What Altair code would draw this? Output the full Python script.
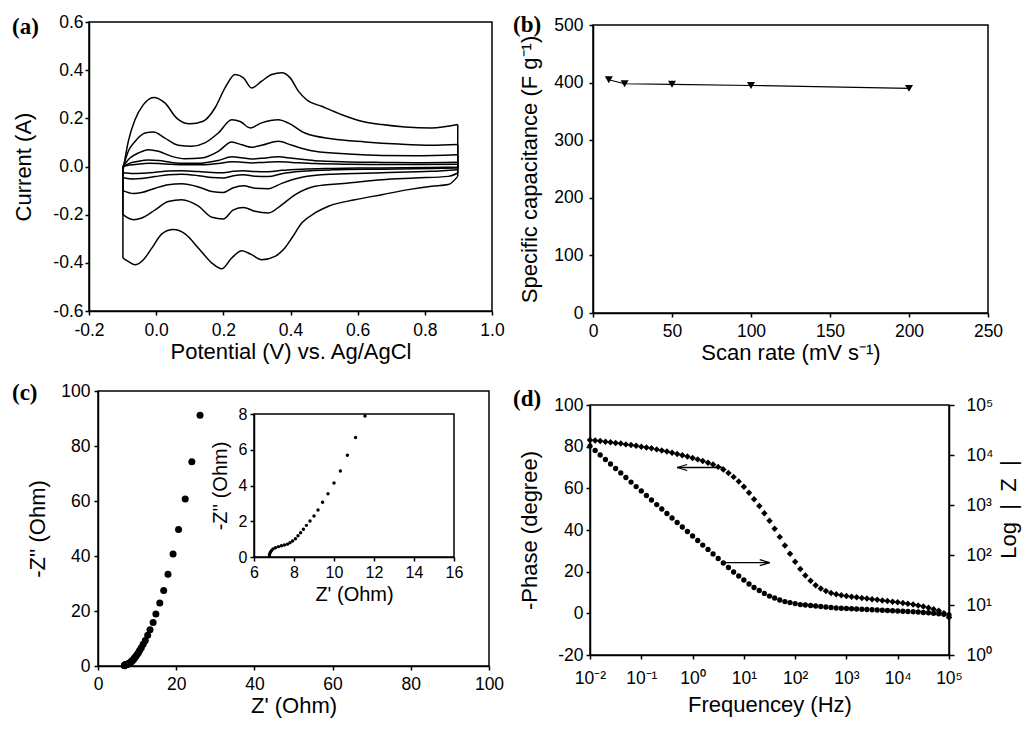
import altair as alt
import pandas as pd

FONT = "Liberation Sans"
W, H = 1014, 711  # whole drawing area; panels are placed through their scale ranges

# ---------------- (a) cyclic voltammetry loops (scan rate in mV/s) ----------------
cv200_up_E = [-0.099, -0.083, -0.063, -0.038, -0.008, 0.026, 0.061, 0.10, 0.14, 0.175, 0.205, 0.235, 0.26,
              0.284, 0.314, 0.344, 0.374, 0.399, 0.424, 0.448, 0.493, 0.553, 0.612, 0.672, 0.741, 0.82, 0.898]
cv200_up_I = [-0.02, 0.104, 0.194, 0.257, 0.287, 0.264, 0.201, 0.177, 0.188, 0.243, 0.326, 0.382, 0.368,
              0.326, 0.354, 0.382, 0.389, 0.368, 0.312, 0.277, 0.25, 0.215, 0.188, 0.174, 0.164, 0.16, 0.174]
cv200_dn_E = [0.898, 0.87, 0.82, 0.751, 0.672, 0.592, 0.513, 0.473, 0.434, 0.404, 0.379, 0.354, 0.314, 0.284,
              0.255, 0.225, 0.195, 0.166, 0.126, 0.086, 0.051, 0.017, -0.013, -0.038, -0.063, -0.083, -0.099]
cv200_dn_I = [-0.041, -0.075, -0.082, -0.096, -0.117, -0.138, -0.165, -0.193, -0.234, -0.297, -0.345, -0.373,
              -0.387, -0.366, -0.35, -0.38, -0.425, -0.401, -0.339, -0.28, -0.262, -0.28, -0.339, -0.387,
              -0.408, -0.394, -0.38]

cv100_up_E = [-0.099, -0.083, -0.063, -0.033, -0.008, 0.026, 0.066, 0.106, 0.145, 0.185, 0.225, 0.25, 0.28,
              0.314, 0.364, 0.394, 0.443, 0.523, 0.622, 0.721, 0.82, 0.898]
cv100_up_I = [-0.006, 0.063, 0.104, 0.139, 0.143, 0.118, 0.088, 0.084, 0.098, 0.139, 0.194, 0.187, 0.16,
              0.181, 0.194, 0.18, 0.139, 0.115, 0.102, 0.093, 0.088, 0.091]
cv100_dn_E = [0.898, 0.87, 0.771, 0.672, 0.572, 0.473, 0.414, 0.374, 0.334, 0.294, 0.26, 0.23, 0.2, 0.166,
              0.126, 0.076, 0.036, -0.003, -0.043, -0.068, -0.099]
cv100_dn_I = [-0.027, -0.041, -0.048, -0.055, -0.069, -0.082, -0.117, -0.159, -0.193, -0.186, -0.17, -0.18,
              -0.218, -0.211, -0.165, -0.138, -0.145, -0.18, -0.214, -0.221, -0.2]

cv_small_up_E = [-0.099, -0.078, -0.053, -0.023, 0.007, 0.046, 0.086, 0.135, 0.185, 0.225, 0.255, 0.284,
                 0.314, 0.364, 0.404, 0.473, 0.572, 0.672, 0.771, 0.898]
cv_small_dn_E = [0.898, 0.82, 0.672, 0.523, 0.434, 0.374, 0.334, 0.294, 0.26, 0.23, 0.2, 0.166, 0.126,
                 0.076, 0.036, -0.003, -0.043, -0.068, -0.099]

cv50_up_I = [0.0, 0.035, 0.056, 0.07, 0.063, 0.042, 0.032, 0.035, 0.063, 0.102, 0.09, 0.08, 0.088, 0.105,
             0.088, 0.063, 0.052, 0.046, 0.045, 0.049]
cv50_dn_I = [-0.013, -0.02, -0.026, -0.032, -0.045, -0.07, -0.092, -0.09, -0.08, -0.088, -0.108, -0.104,
             -0.085, -0.072, -0.076, -0.09, -0.108, -0.112, -0.1]
cv20_up_I = [0.0, 0.014, 0.022, 0.027, 0.025, 0.017, 0.013, 0.014, 0.025, 0.04, 0.036, 0.031, 0.034, 0.04,
             0.034, 0.024, 0.019, 0.017, 0.016, 0.018]
cv20_dn_I = [-0.006, -0.008, -0.011, -0.014, -0.02, -0.03, -0.042, -0.04, -0.034, -0.038, -0.048, -0.046,
             -0.038, -0.032, -0.034, -0.042, -0.05, -0.052, -0.047]
cv10_up_I = [0.0, 0.006, 0.01, 0.013, 0.012, 0.009, 0.007, 0.007, 0.012, 0.02, 0.018, 0.015, 0.017, 0.02,
             0.017, 0.012, 0.009, 0.008, 0.008, 0.009]
cv10_dn_I = [-0.003, -0.004, -0.006, -0.008, -0.011, -0.016, -0.022, -0.021, -0.018, -0.02, -0.026, -0.025,
             -0.021, -0.018, -0.019, -0.024, -0.028, -0.029, -0.026]

a_xticks = [-0.2, 0.0, 0.2, 0.4, 0.6, 0.8, 1.0]
a_yticks = [-0.6, -0.4, -0.2, 0.0, 0.2, 0.4, 0.6]

# ---------------- (b) specific capacitance ----------------
b_rate = [10, 20, 50, 100, 200]
b_cap = [405, 398, 397, 395, 390]
b_xticks = [0, 50, 100, 150, 200, 250]
b_yticks = [0, 100, 200, 300, 400, 500]

# ---------------- (c) Nyquist ----------------
c_zre = [6.77, 6.78, 6.82, 6.87, 6.95, 7.07, 7.22, 7.37, 7.52, 7.67, 7.80, 7.93, 8.07, 8.20, 8.33, 8.47,
         8.62, 8.80, 9.00, 9.20, 9.43, 9.70, 10.00, 10.32, 10.67, 11.08, 11.55, 12.1, 12.7, 13.3, 14.1,
         14.8, 15.8, 16.8, 17.9, 19.2, 20.6, 22.3, 24.0, 26.1]
c_zim = [0.07, 0.17, 0.26, 0.35, 0.45, 0.52, 0.58, 0.63, 0.67, 0.72, 0.80, 0.89, 1.02, 1.19, 1.36, 1.55,
         1.77, 2.01, 2.29, 2.63, 3.06, 3.54, 4.14, 4.81, 5.69, 6.68, 7.89, 9.3, 11.2, 13.2, 15.8,
         18.9, 22.9, 27.5, 33.4, 40.7, 49.6, 60.7, 74.3, 91.2]
c_ticks = [0, 20, 40, 60, 80, 100]
ins_xticks = [6, 8, 10, 12, 14, 16]
ins_yticks = [0, 2, 4, 6, 8]

# ---------------- (d) Bode ----------------
d_freq = [0.01, 0.0126, 0.0158, 0.02, 0.0251, 0.0316, 0.0398, 0.0501, 0.0631, 0.0794,
          0.1, 0.126, 0.158, 0.2, 0.251, 0.316, 0.398, 0.501, 0.631, 0.794,
          1.0, 1.26, 1.58, 2.0, 2.51, 3.16, 3.98, 5.01, 6.31, 7.94,
          10.0, 12.6, 15.8, 20.0, 25.1, 31.6, 39.8, 50.1, 63.1, 79.4,
          100.0, 126.0, 158.0, 200.0, 251.0, 316.0, 398.0, 501.0, 631.0, 794.0,
          1000.0, 1260.0, 1580.0, 2000.0, 2510.0, 3160.0, 3980.0, 5010.0, 6310.0, 7940.0,
          10000.0, 12600.0, 15800.0, 20000.0, 25100.0, 31600.0, 39800.0, 50100.0, 63100.0, 79400.0,
          100000.0]
d_phase = [83.2, 83.0, 82.7, 82.4, 82.1, 81.8, 81.5, 81.1, 80.8, 80.4,
           80.0, 79.6, 79.2, 78.7, 78.2, 77.7, 77.1, 76.5, 75.9, 75.3,
           74.6, 73.9, 73.1, 72.3, 71.4, 70.3, 69.0, 67.4, 65.5, 63.3,
           60.8, 57.9, 54.8, 51.5, 48.0, 44.4, 40.6, 36.7, 32.6, 28.6,
           24.8, 21.3, 18.2, 15.6, 13.5, 11.9, 10.7, 9.8, 9.2, 8.7,
           8.3, 8.0, 7.7, 7.4, 7.1, 6.8, 6.5, 6.2, 5.9, 5.6,
           5.3, 5.0, 4.6, 4.2, 3.8, 3.3, 2.7, 2.0, 1.2, 0.0,
           -2.0]
d_zmod = [15100, 12300, 10000, 8130, 6610, 5370, 4370, 3550, 2880, 2340,
          1910, 1550, 1260, 1020, 832, 676, 550, 447, 363, 295,
          240, 195, 158, 129, 105, 85.1, 69.2, 56.2, 45.7, 38.0,
          31.6, 26.3, 22.4, 19.5, 17.0, 15.1, 13.8, 12.6, 11.7, 11.2,
          10.7, 10.2, 10.0, 9.77, 9.55, 9.33, 9.12, 8.91, 8.71, 8.61,
          8.51, 8.41, 8.32, 8.22, 8.13, 8.04, 7.94, 7.85, 7.76, 7.67,
          7.59, 7.50, 7.41, 7.33, 7.24, 7.08, 7.00, 6.84, 6.68, 6.53,
          6.31]
d_xticks = [0.01, 0.1, 1, 10, 100, 1000, 10000, 100000]
d_xlabels = ["10⁻²", "10⁻¹", "10⁰", "10¹", "10²", "10³", "10⁴", "10⁵"]
d_yticks = [-20, 0, 20, 40, 60, 80, 100]
d_rticks = [1, 10, 100, 1000, 10000, 100000]
d_rlabels = ["10⁰", "10¹", "10²", "10³", "10⁴", "10⁵"]
arrow_tail = [4.0, 3.7]
arrow_head = [0.5, 32.0]
arrow_phase = [70.0, 24.3]
arrow_shape = ["M0,0L2,-0.6M0,0L2,0.6", "M0,0L-2,-0.6M0,0L-2,0.6"]

panel_tags = ["(a)", "(b)", "(c)", "(d)"]


# ---------------- helpers ----------------
def branches(name, ue, ui, le, li):
    up = pd.DataFrame({"loop": name, "branch": "up", "E": ue, "I": ui})
    dn = pd.DataFrame({"loop": name, "branch": "dn", "E": le, "I": li})
    return pd.concat([up, dn], ignore_index=True)


def ends(name, ue, ui, le, li):
    # vertical segments where the sweep reverses (right end, then left end)
    return pd.DataFrame({"loop": name, "E": [ue[-1], le[-1]], "I1": [ui[-1], li[-1]], "I2": [li[0], ui[0]]})


def signed_expr(fmt):
    return f"datum.value < 0 ? '-' + format(-datum.value, '{fmt}') : format(datum.value, '{fmt}')"


def label_expr(vals, labels):
    parts = [f"datum.value <= {v * 1.001} ? '{l}'" for v, l in zip(vals, labels)]
    return " : ".join(parts) + " : ''"


def lin(domain, rng):
    return alt.Scale(domain=domain, range=rng, nice=False, zero=False)


def frame(xdom, ydom, xs, ys, xax, yax):
    df = pd.DataFrame({"x1": [xdom[0]], "x2": [xdom[1]], "y1": [ydom[0]], "y2": [ydom[1]]})
    return alt.Chart(df).mark_rect(fill="white", fillOpacity=0, stroke="black", strokeWidth=1.5).encode(
        x=alt.X("x1:Q", scale=xs, axis=xax), x2="x2:Q",
        y=alt.Y("y1:Q", scale=ys, axis=yax), y2="y2:Q")


def bottom_axis(title, values, y_px, **kw):
    return alt.Axis(orient="bottom", offset=y_px - H, title=title, values=values, **kw)


def left_axis(title, values, x_px, **kw):
    return alt.Axis(orient="left", offset=-x_px, title=title, values=values, **kw)


loops = [
    ("200", cv200_up_E, cv200_up_I, cv200_dn_E, cv200_dn_I),
    ("100", cv100_up_E, cv100_up_I, cv100_dn_E, cv100_dn_I),
    ("50", cv_small_up_E, cv50_up_I, cv_small_dn_E, cv50_dn_I),
    ("20", cv_small_up_E, cv20_up_I, cv_small_dn_E, cv20_dn_I),
    ("10", cv_small_up_E, cv10_up_I, cv_small_dn_E, cv10_dn_I),
]
cv_df = pd.concat([branches(*l) for l in loops], ignore_index=True)
cv_ends = pd.concat([ends(*l) for l in loops], ignore_index=True)
b_df = pd.DataFrame({"rate": b_rate, "cap": b_cap})
c_df = pd.DataFrame({"Zr": c_zre, "Zi": c_zim})
d_df = pd.DataFrame({"f": d_freq, "phase": d_phase, "Z": d_zmod})
arrow_df = pd.DataFrame({"tail": arrow_tail, "head": arrow_head, "ph": arrow_phase, "shape": arrow_shape})

# ---------------- panel (a) ----------------
A_L, A_R, A_T, A_B = 81, 484, 14, 303
a_xs = lin([-0.2, 1.0], [A_L, A_R])
a_ys = lin([-0.6, 0.6], [A_B, A_T])
a_xax = bottom_axis("Potential (V) vs. Ag/AgCl", a_xticks, A_B, labelExpr=signed_expr(".1f"),
                    tickSize=4, labelPadding=6, titlePadding=3)
a_yax = left_axis("Current (A)", a_yticks, A_L, labelExpr=signed_expr(".1f"),
                  tickSize=4, labelPadding=2, titlePadding=17)
a_lines = alt.Chart(cv_df).mark_line(color="black", strokeWidth=1.5, interpolate="monotone").encode(
    x=alt.X("E:Q", scale=a_xs, axis=a_xax),
    y=alt.Y("I:Q", scale=a_ys, axis=a_yax),
    detail=["loop:N", "branch:N"])
a_ends = alt.Chart(cv_ends).mark_rule(color="black", strokeWidth=1.5).encode(
    x=alt.X("E:Q", scale=a_xs, axis=a_xax),
    y=alt.Y("I1:Q", scale=a_ys, axis=a_yax), y2="I2:Q")
panel_a = alt.layer(frame([-0.2, 1.0], [-0.6, 0.6], a_xs, a_ys, a_xax, a_yax), a_lines, a_ends)

# ---------------- panel (b) ----------------
B_L, B_R, B_T, B_B = 585, 980, 17, 305
b_xs = lin([0, 250], [B_L, B_R])
b_ys = lin([0, 500], [B_B, B_T])
b_xax = bottom_axis("Scan rate (mV s⁻¹)", b_xticks, B_B, tickSize=4, labelPadding=5, titlePadding=3)
b_yax = left_axis("Specific capacitance (F g⁻¹)", b_yticks, B_L, tickSize=4, labelPadding=6, titlePadding=12)
b_line = alt.Chart(b_df).mark_line(color="black", strokeWidth=1.2).encode(
    x=alt.X("rate:Q", scale=b_xs, axis=b_xax), y=alt.Y("cap:Q", scale=b_ys, axis=b_yax))
b_pts = alt.Chart(b_df).mark_point(shape="triangle-down", filled=True, color="black", size=64,
                                   opacity=1).encode(
    x=alt.X("rate:Q", scale=b_xs, axis=b_xax), y=alt.Y("cap:Q", scale=b_ys, axis=b_yax))
panel_b = alt.layer(frame([0, 250], [0, 500], b_xs, b_ys, b_xax, b_yax), b_line, b_pts)

# ---------------- panel (c) ----------------
C_L, C_R, C_T, C_B = 90, 481, 383, 658
c_xs = lin([0, 100], [C_L, C_R])
c_ys = lin([0, 100], [C_B, C_T])
c_xax = bottom_axis("Z' (Ohm)", c_ticks, C_B, tickSize=4, labelPadding=5, titlePadding=3)
c_yax = left_axis("-Z'' (Ohm)", c_ticks, C_L, tickSize=4, labelPadding=4, titlePadding=11)
c_main = alt.Chart(c_df).mark_circle(size=49, color="black", opacity=1).encode(
    x=alt.X("Zr:Q", scale=c_xs, axis=c_xax), y=alt.Y("Zi:Q", scale=c_ys, axis=c_yax))
panel_c = alt.layer(frame([0, 100], [0, 100], c_xs, c_ys, c_xax, c_yax), c_main)

# inset of (c)
I_L, I_R, I_T, I_B = 246, 446, 406, 549
i_xs = lin([6, 16], [I_L, I_R])
i_ys = lin([0, 8], [I_B, I_T])
i_xax = bottom_axis("Z' (Ohm)", ins_xticks, I_B, tickSize=4, labelPadding=3, titlePadding=4,
                    labelFontSize=16, titleFontSize=20)
i_yax = left_axis("-Z'' (Ohm)", ins_yticks, I_L, tickSize=4, labelPadding=3, titlePadding=8,
                  labelFontSize=16, titleFontSize=20)
i_pts = alt.Chart(c_df).transform_filter("datum.Zr <= 16 && datum.Zi <= 8").mark_circle(
    size=12, color="black", opacity=1).encode(
    x=alt.X("Zr:Q", scale=i_xs, axis=i_xax), y=alt.Y("Zi:Q", scale=i_ys, axis=i_yax))
panel_inset = alt.layer(frame([6, 16], [0, 8], i_xs, i_ys, i_xax, i_yax), i_pts)

# ---------------- panel (d) ----------------
D_L, D_R, D_T, D_B = 582, 941, 397, 647
d_xs = alt.Scale(type="log", domain=[0.01, 100000], range=[D_L, D_R], nice=False)
d_ys = lin([-20, 100], [D_B, D_T])
d_xax = bottom_axis("Frequencey (Hz)", d_xticks, D_B, labelExpr=label_expr(d_xticks, d_xlabels),
                    tickSize=4, labelPadding=10, titlePadding=8)
d_yax = left_axis("-Phase (degree)", d_yticks, D_L, labelExpr=signed_expr("d"),
                  tickSize=4, labelPadding=3, titlePadding=12)
d_dia = alt.Chart(d_df).mark_point(shape="diamond", filled=True, color="black", size=42, opacity=1).encode(
    x=alt.X("f:Q", scale=d_xs, axis=d_xax), y=alt.Y("phase:Q", scale=d_ys, axis=d_yax))
d_arrow = alt.Chart(arrow_df).mark_rule(color="black", strokeWidth=1.3).encode(
    x=alt.X("tail:Q", scale=d_xs, axis=d_xax), x2="head:Q",
    y=alt.Y("ph:Q", scale=d_ys, axis=d_yax))
d_heads = alt.Chart(arrow_df).mark_point(filled=False, color="black", strokeWidth=1.3, size=100,
                                         opacity=1).encode(
    x=alt.X("head:Q", scale=d_xs, axis=d_xax), y=alt.Y("ph:Q", scale=d_ys, axis=d_yax),
    shape=alt.Shape("shape:N", scale=None))
panel_d = alt.layer(frame([0.01, 100000], [-20, 100], d_xs, d_ys, d_xax, d_yax), d_dia, d_arrow, d_heads)

d_zs = alt.Scale(type="log", domain=[1, 100000], range=[D_B, D_T], nice=False)
d_zax = alt.Axis(orient="right", offset=D_R - W, title="Log\u00a0\u00a0|\u00a0\u00a0Z\u00a0\u00a0|",
                 values=d_rticks, labelExpr=label_expr(d_rticks, d_rlabels), tickSize=5, labelPadding=12,
                 minExtent=44, maxExtent=44, titlePadding=5, titleAngle=270, titleBaseline="top", titleY=501)
panel_dz = alt.Chart(d_df).mark_circle(size=28, color="black", opacity=1).encode(
    x=alt.X("f:Q", scale=alt.Scale(type="log", domain=[0.01, 100000], range=[D_L, D_R], nice=False), axis=None),
    y=alt.Y("Z:Q", scale=d_zs, axis=d_zax))

# ---------------- panel tags ----------------
tags = alt.Chart(pd.DataFrame({"t": panel_tags, "px": [4, 505, 4, 505], "py": [8, 6, 374, 380]})).mark_text(
    align="left", baseline="top", font="Liberation Serif", fontWeight="bold", fontSize=23, color="black"
).encode(text="t:N", x=alt.X("px:Q", scale=None), y=alt.Y("py:Q", scale=None))

chart = alt.layer(
    panel_a, panel_b, panel_c, panel_inset, panel_d, panel_dz, tags
).resolve_scale(
    x="independent", y="independent"
).properties(
    width=W, height=H, padding=0
).configure_view(
    stroke="transparent", strokeWidth=0
).configure_axis(
    domainColor="black", domainWidth=1.5, tickColor="black", tickWidth=1.5,
    labelColor="black", titleColor="black", labelFont=FONT, titleFont=FONT,
    labelFontSize=17.5, titleFontSize=22, titleFontWeight="normal",
    grid=False, labelFlush=False, labelOverlap=False
)

chart.save("out.html", embed_options={"renderer": "svg", "actions": False})
